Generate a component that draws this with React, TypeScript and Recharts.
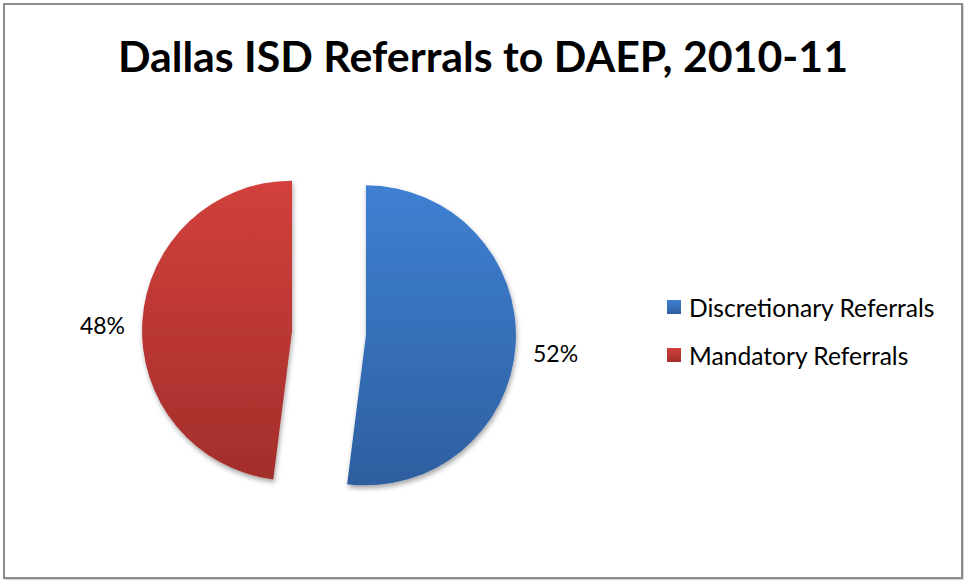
import React from "react";
import { PieChart, Pie, Cell, Sector, Legend } from "recharts";

const categories = ["Discretionary Referrals", "Mandatory Referrals"];
const shares = [52, 48];
const fills = ["url(#gradBlue)", "url(#gradRed)"];

const data = categories.map((name, i) => ({ name, value: shares[i] }));

const RAD = Math.PI / 180;
const EXPLODE = 37;
const FONT = "Lato, 'Open Sans', sans-serif";

function ExplodedSlice(props: any) {
  const { cx, cy, midAngle } = props;
  const dx = EXPLODE * Math.cos(-midAngle * RAD);
  const dy = EXPLODE * Math.sin(-midAngle * RAD);
  return (
    <Sector
      {...props}
      cx={cx + dx}
      cy={cy + dy}
      stroke="none"
      filter="url(#sliceShadow)"
    />
  );
}

function PercentLabel(props: any) {
  const { cx, cy, midAngle, outerRadius, percent } = props;
  const r = outerRadius + EXPLODE + 40;
  const x = cx + r * Math.cos(-midAngle * RAD);
  const y = cy + r * Math.sin(-midAngle * RAD) + 6;
  return (
    <text
      x={x}
      y={y}
      textAnchor="middle"
      dominantBaseline="central"
      fontFamily={FONT}
      fontSize={23}
      fill="#000"
    >
      {`${Math.round(percent * 100)}%`}
    </text>
  );
}

function LegendBox({ payload }: any) {
  return (
    <div style={{ fontFamily: FONT, fontSize: 24.6, color: "#000" }}>
      {(payload || []).map((item: any, i: number) => (
        <div
          key={`leg-${i}`}
          style={{ display: "flex", alignItems: "center", height: 48 }}
        >
          <svg width={14} height={14} style={{ marginRight: 8 }}>
            <defs>
              <linearGradient id={`lg-${i}`} x1="0" y1="0" x2="0" y2="1">
                <stop offset="0%" stopColor={i === 0 ? "#3f80d2" : "#d2403c"} />
                <stop offset="100%" stopColor={i === 0 ? "#2d5f9f" : "#a22e2b"} />
              </linearGradient>
            </defs>
            <rect width={14} height={14} fill={`url(#lg-${i})`} />
          </svg>
          <span>{item.value}</span>
        </div>
      ))}
    </div>
  );
}

export default function App() {
  return (
    <div
      style={{
        position: "absolute",
        left: 0,
        top: 0,
        width: 964,
        height: 580,
        background: "#fff",
      }}
    >
      <div
        style={{
          position: "absolute",
          left: 3,
          top: 3,
          width: 956,
          height: 572,
          border: "2px solid #8c8c8c",
          boxShadow: "1px 1px 2px rgba(0,0,0,0.25)",
        }}
      />
      <svg
        width={964}
        height={100}
        style={{ position: "absolute", left: 0, top: 0 }}
      >
        <text
          x={483}
          y={72}
          textAnchor="middle"
          fontFamily={FONT}
          fontWeight="bold"
          fontSize={42}
          textLength={730}
          lengthAdjust="spacingAndGlyphs"
          fill="#000"
        >
          Dallas ISD Referrals to DAEP, 2010-11
        </text>
      </svg>
      <div style={{ position: "absolute", left: 0, top: 0 }}>
        <PieChart
          width={964}
          height={580}
          margin={{ top: 0, right: 0, bottom: 0, left: 0 }}
        >
          <defs>
            <linearGradient id="gradBlue" x1="0" y1="0" x2="0" y2="1">
              <stop offset="0%" stopColor="#3f80d2" />
              <stop offset="100%" stopColor="#2d5f9f" />
            </linearGradient>
            <linearGradient id="gradRed" x1="0" y1="0" x2="0" y2="1">
              <stop offset="0%" stopColor="#d2403c" />
              <stop offset="100%" stopColor="#a22e2b" />
            </linearGradient>
            <filter id="sliceShadow" x="-10%" y="-10%" width="130%" height="130%">
              <feDropShadow dx="1" dy="3" stdDeviation="2.5" floodColor="#000" floodOpacity="0.35" />
            </filter>
          </defs>
          <Pie
            data={data}
            dataKey="value"
            nameKey="name"
            cx={329}
            cy={333}
            outerRadius={150}
            startAngle={90}
            endAngle={-270}
            stroke="none"
            shape={ExplodedSlice}
            activeShape={ExplodedSlice}
            label={PercentLabel}
            labelLine={false}
            isAnimationActive={false}
          >
            {data.map((_, i) => (
              <Cell key={`cell-${i}`} fill={fills[i]} />
            ))}
          </Pie>
          <Legend
            layout="vertical"
            verticalAlign="top"
            align="right"
            content={LegendBox}
            wrapperStyle={{ left: 667, top: 283, width: 295 }}
          />
        </PieChart>
      </div>
    </div>
  );
}
